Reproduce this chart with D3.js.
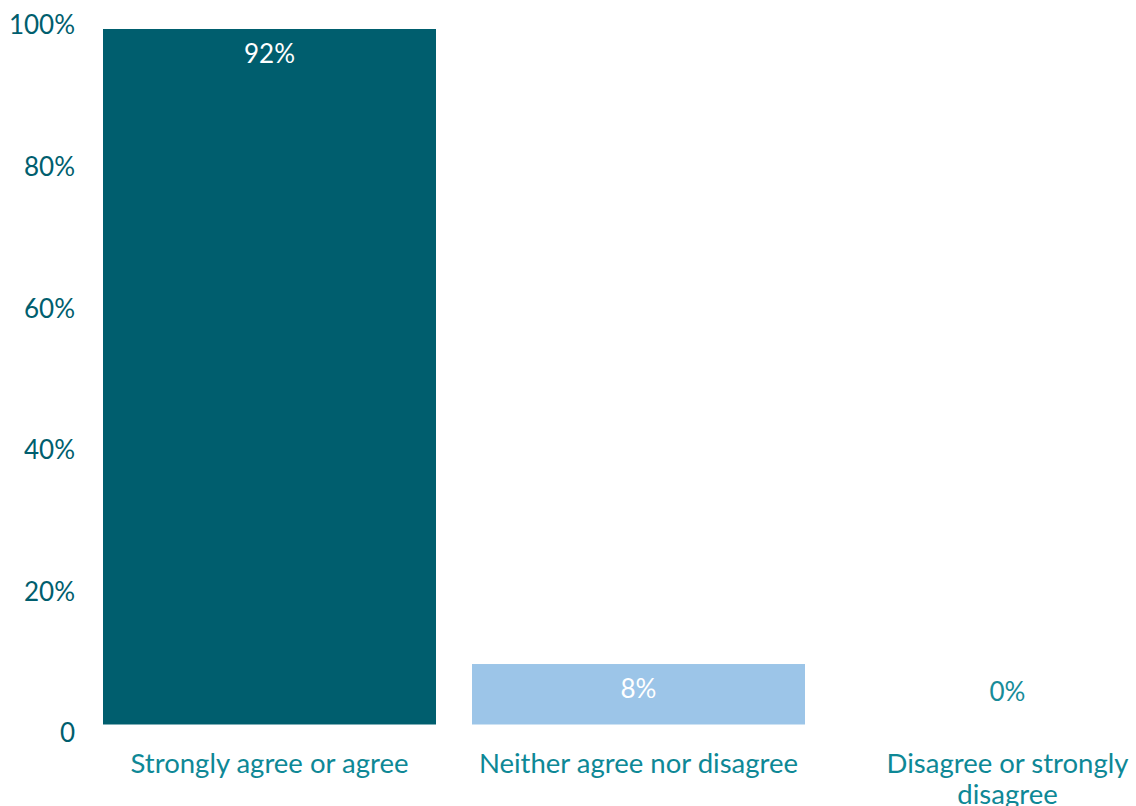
<!DOCTYPE html>
<html>
<head>
<meta charset="utf-8">
<script src="https://cdn.jsdelivr.net/npm/d3@7"></script>
<style>
  body { margin: 0; background: #fff; }
  svg { display: block; }
  text { font-family: Lato, "Open Sans", sans-serif; }
</style>
</head>
<body>
<svg id="chart"></svg>
<script>
const categories = ['Strongly agree or agree', 'Neither agree nor disagree', 'Disagree or strongly disagree'];
const values = [92, 8, 0];
const tickValues = [0, 20, 40, 60, 80, 100];
const tickLabels = ['0', '20%', '40%', '60%', '80%', '100%'];
const barColors = ['#005e6e', '#9cc5e8', '#9cc5e8'];

const width = 1136;
const height = 806;
const svg = d3.select('#chart')
  .attr('width', width)
  .attr('height', height);

// band scale for the three categories
const x = d3.scaleBand()
  .domain(categories)
  .range([85, 1192])
  .paddingInner(36 / 369)
  .paddingOuter(18 / 369);

// the axis labels and the bars use different scales in the source chart
const yAxis = d3.scaleLinear().domain([0, 100]).range([733, 25]);
const yBar = d3.scaleLinear().domain([0, d3.max(values)]).range([724.5, 29]);

// y tick labels, no axis line
svg.append('g')
  .attr('class', 'yTicks')
  .selectAll('text')
  .data(tickValues)
  .join('text')
    .attr('x', 75)
    .attr('y', (d) => yAxis(d))
    .attr('dy', '0.36em')
    .attr('text-anchor', 'end')
    .attr('font-size', 26)
    .attr('fill', '#005e6e')
    .text((d, i) => tickLabels[i]);

const bars = svg.append('g')
  .attr('class', 'bars')
  .selectAll('g')
  .data(categories.map((c, i) => ({ c, v: values[i], color: barColors[i] })))
  .join('g');

bars.append('rect')
  .attr('x', (d) => x(d.c))
  .attr('y', (d) => yBar(d.v))
  .attr('width', x.bandwidth())
  .attr('height', (d) => yBar(0) - yBar(d.v))
  .attr('fill', (d) => d.color);

bars.append('text')
  .attr('x', (d) => x(d.c) + x.bandwidth() / 2)
  .attr('y', (d) => (d.v > 0 ? yBar(d.v) + 25 : yBar(0) - 33))
  .attr('dy', '0.36em')
  .attr('text-anchor', 'middle')
  .attr('font-size', 26)
  .attr('fill', (d) => (d.v > 0 ? '#ffffff' : '#178c99'))
  .text((d) => `${d.v}%`);

// category labels, wrapped to the band width
const catLabels = svg.append('g')
  .attr('class', 'xLabels')
  .selectAll('text')
  .data(categories)
  .join('text')
    .attr('x', (d) => x(d) + x.bandwidth() / 2)
    .attr('y', 763)
    .attr('dy', '0.36em')
    .attr('text-anchor', 'middle')
    .attr('font-size', 27.5)
    .attr('fill', '#0e8896');

catLabels.each(function (d) {
  const el = d3.select(this);
  const cx = x(d) + x.bandwidth() / 2;
  const words = d.split(' ');
  let line = [];
  let tspan = el.append('tspan').attr('x', cx);
  words.forEach((w) => {
    line.push(w);
    tspan.text(line.join(' '));
    if (tspan.node().getComputedTextLength() > x.bandwidth() && line.length > 1) {
      line.pop();
      tspan.text(line.join(' '));
      line = [w];
      tspan = el.append('tspan')
        .attr('x', cx)
        .attr('dy', '1.12em')
        .text(w);
    }
  });
});
</script>
</body>
</html>
